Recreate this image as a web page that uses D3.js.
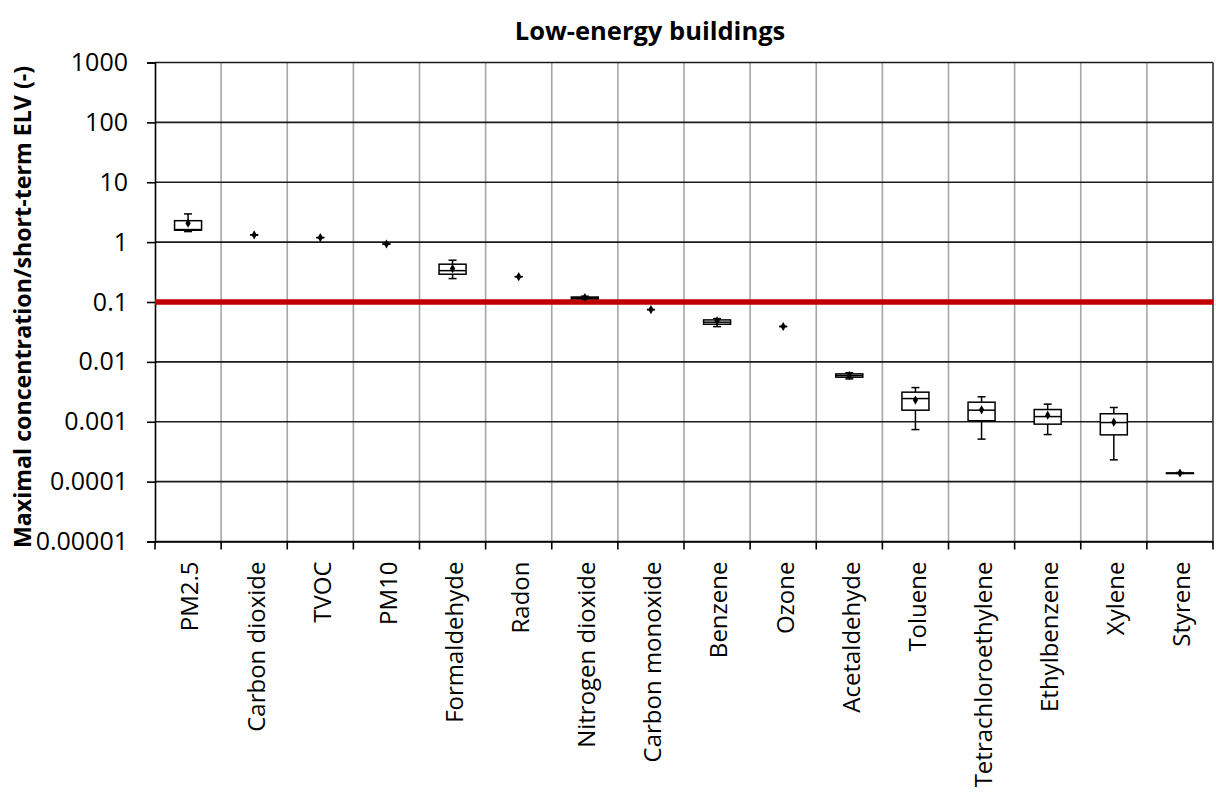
<!DOCTYPE html>
<html>
<head>
<meta charset="utf-8">
<script src="https://cdn.jsdelivr.net/npm/d3@7"></script>
<style>
  html, body { margin: 0; padding: 0; background: #fff; }
  svg { display: block; }
</style>
</head>
<body>
<svg id="chart" width="1216" height="799"></svg>
<script>
// ---- Data ----
const categories = ["PM2.5", "Carbon dioxide", "TVOC", "PM10", "Formaldehyde", "Radon",
  "Nitrogen dioxide", "Carbon monoxide", "Benzene", "Ozone", "Acetaldehyde", "Toluene",
  "Tetrachloroethylene", "Ethylbenzene", "Xylene", "Styrene"];
const minVals    = [1.50, 1.32, 1.19, 0.93, 0.246, 0.265, 0.113, 0.0746, 0.0388, 0.039, 0.0052, 0.00074, 0.000513, 0.000611, 0.000231, 0.000137];
const q1Vals     = [1.58, 1.32, 1.19, 0.93, 0.291, 0.265, 0.1135, 0.0746, 0.0425, 0.039, 0.00555, 0.00156, 0.00104, 0.000912, 0.000604, 0.0001365];
const medianVals = [1.62, 1.32, 1.19, 0.93, 0.334, 0.265, 0.118, 0.0746, 0.046, 0.039, 0.0059, 0.00244, 0.00156, 0.00122, 0.00097, 0.000138];
const q3Vals     = [2.28, 1.32, 1.19, 0.93, 0.428, 0.265, 0.121, 0.0746, 0.0502, 0.039, 0.0063, 0.00312, 0.00212, 0.0016, 0.00136, 0.0001395];
const maxVals    = [2.96, 1.32, 1.19, 0.93, 0.499, 0.265, 0.125, 0.0746, 0.0528, 0.039, 0.0066, 0.00372, 0.00261, 0.00197, 0.00173, 0.000142];
const meanVals   = [2.07, 1.32, 1.19, 0.93, 0.361, 0.265, 0.119, 0.0746, 0.0483, 0.039, 0.0059, 0.0023, 0.00158, 0.00129, 0.000984, 0.000139];
const tickValues = [1e3, 1e2, 1e1, 1, 0.1, 0.01, 0.001, 0.0001, 0.00001];
const tickLabels = ["1000", "100", "10", "1", "0.1", "0.01", "0.001", "0.0001", "0.00001"];
const thresholdValue = 0.1;
const titleText = "Low-energy buildings";
const yTitleText = "Maximal concentration/short-term ELV (-)";

// ---- Layout ----
const plot = { left: 155, right: 1213, top: 62.5, bottom: 541.5 };
const svg = d3.select("#chart");
const fontMain = "'Open Sans', 'Noto Sans', sans-serif";

const x = d3.scaleBand().domain(categories).range([plot.left, plot.right]).padding(0);
const y = d3.scaleLog().domain([1e-5, 1e3]).range([plot.bottom, plot.top]);

// vertical gridlines (category boundaries)
const boundaries = categories.slice(1).map(c => x(c));
svg.append("g").selectAll("line").data(boundaries).join("line")
  .attr("x1", d => d).attr("x2", d => d)
  .attr("y1", plot.top).attr("y2", plot.bottom)
  .attr("stroke", "#a6a6a6").attr("stroke-width", 1.6);

// horizontal gridlines
svg.append("g").selectAll("line").data(tickValues).join("line")
  .attr("x1", plot.left).attr("x2", plot.right)
  .attr("y1", d => y(d)).attr("y2", d => y(d))
  .attr("stroke", "#1a1a1a").attr("stroke-width", 1.6);

// right border
svg.append("line")
  .attr("x1", plot.right).attr("x2", plot.right)
  .attr("y1", plot.top).attr("y2", plot.bottom)
  .attr("stroke", "#333").attr("stroke-width", 1.6);

// y axis
const yAxis = d3.axisLeft(y).tickValues(tickValues)
  .tickFormat((d, i) => tickLabels[i]).tickSize(8).tickPadding(19);
const yg = svg.append("g").attr("transform", `translate(${plot.left},0)`).call(yAxis);
yg.select(".domain").attr("stroke", "#000").attr("stroke-width", 1.6);
yg.selectAll(".tick line").attr("stroke", "#000").attr("stroke-width", 1.6);
yg.selectAll(".tick text").attr("font-family", fontMain).attr("font-size", 25)
  .attr("fill", "#000");

// x axis
const xAxis = d3.axisBottom(x).tickSize(0).tickFormat("");
const xg = svg.append("g").attr("transform", `translate(0,${plot.bottom})`).call(xAxis);
xg.select(".domain").attr("stroke", "#000").attr("stroke-width", 1.6);
xg.selectAll(".tick").remove();
// x ticks at category boundaries
const xTickPos = [plot.left].concat(boundaries).concat([plot.right]);
svg.append("g").selectAll("line").data(xTickPos).join("line")
  .attr("x1", d => d).attr("x2", d => d)
  .attr("y1", plot.bottom).attr("y2", plot.bottom + 8)
  .attr("stroke", "#000").attr("stroke-width", 1.6);

// category labels
svg.append("g").selectAll("text").data(categories).join("text")
  .attr("transform", d => `translate(${x(d) + x.bandwidth() / 2 + 2},${plot.bottom + 20}) rotate(-90)`)
  .attr("text-anchor", "end").attr("dy", "0.35em")
  .attr("font-family", fontMain).attr("font-size", 24).attr("fill", "#000")
  .text(d => d);

// threshold line
svg.append("line")
  .attr("x1", plot.left).attr("x2", plot.right)
  .attr("y1", y(thresholdValue)).attr("y2", y(thresholdValue))
  .attr("stroke", "#c00000").attr("stroke-width", 5.5);

// box plots
const boxW = 27, capW = 8;
const data = categories.map((c, i) => ({
  c, min: minVals[i], q1: q1Vals[i], med: medianVals[i], q3: q3Vals[i], max: maxVals[i], mean: meanVals[i]
}));
const g = svg.append("g").selectAll("g").data(data).join("g")
  .attr("transform", d => `translate(${x(d.c) + x.bandwidth() / 2},0)`);

// whiskers
g.append("line").attr("x1", 0).attr("x2", 0)
  .attr("y1", d => y(d.max)).attr("y2", d => y(d.q3))
  .attr("stroke", "#000").attr("stroke-width", 1.5);
g.append("line").attr("x1", 0).attr("x2", 0)
  .attr("y1", d => y(d.q1)).attr("y2", d => y(d.min))
  .attr("stroke", "#000").attr("stroke-width", 1.5);
g.append("line").attr("x1", -capW / 2).attr("x2", capW / 2)
  .attr("y1", d => y(d.max)).attr("y2", d => y(d.max))
  .attr("stroke", "#000").attr("stroke-width", 1.5);
g.append("line").attr("x1", -capW / 2).attr("x2", capW / 2)
  .attr("y1", d => y(d.min)).attr("y2", d => y(d.min))
  .attr("stroke", "#000").attr("stroke-width", 1.5);

// boxes (only where there's a spread)
const gb = g.filter(d => d.q3 > d.q1);
gb.append("rect").attr("x", -boxW / 2).attr("width", boxW)
  .attr("y", d => y(d.q3)).attr("height", d => Math.max(0.5, y(d.q1) - y(d.q3)))
  .attr("fill", "#fff").attr("stroke", "#000").attr("stroke-width", 1.5);
gb.append("line").attr("x1", -boxW / 2).attr("x2", boxW / 2)
  .attr("y1", d => y(d.med)).attr("y2", d => y(d.med))
  .attr("stroke", "#000").attr("stroke-width", 1.5);

// mean markers
g.append("path")
  .attr("d", d3.symbol().type(d3.symbolDiamond).size(24))
  .attr("transform", d => `translate(0,${y(d.mean)})`)
  .attr("fill", "#000");

// title
svg.append("text").attr("x", 650).attr("y", 40)
  .attr("text-anchor", "middle").attr("font-family", fontMain)
  .attr("font-size", 25.5).attr("font-weight", "bold").attr("fill", "#000")
  .text(titleText);

// y axis title
svg.append("text")
  .attr("transform", `translate(23,307) rotate(-90)`)
  .attr("text-anchor", "middle").attr("dy", "0.35em").attr("font-family", fontMain)
  .attr("font-size", 23.2).attr("font-weight", "bold").attr("fill", "#000")
  .text(yTitleText);
</script>
</body>
</html>
